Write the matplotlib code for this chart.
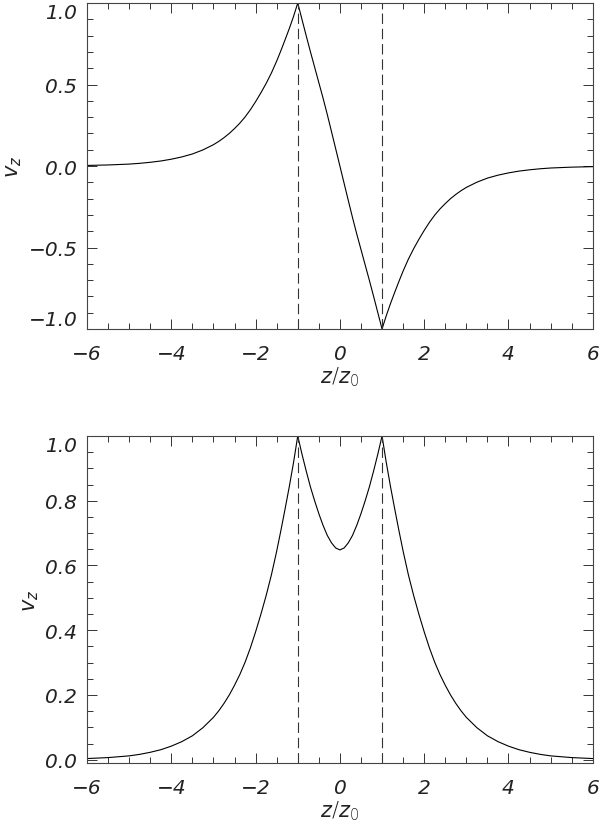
import matplotlib
matplotlib.use("Agg")
import matplotlib.pyplot as plt
from matplotlib.ticker import MultipleLocator, FixedLocator, FuncFormatter
from matplotlib.font_manager import FontProperties

# ---- data ----
z = [-6.0, -5.5, -5.0, -4.75, -4.5, -4.25, -4.0, -3.75, -3.5, -3.25, -3.0,
     -2.875, -2.75, -2.625, -2.5, -2.375, -2.25, -2.125,
     -2.0, -1.875, -1.75, -1.625, -1.5, -1.4, -1.3, -1.2, -1.1, -1.0,
     -0.9, -0.8, -0.7, -0.6, -0.5, -0.4, -0.3, -0.2, -0.1, 0.0,
     0.1, 0.2, 0.3, 0.4, 0.5, 0.6, 0.7, 0.8, 0.9,
     1.0, 1.1, 1.2, 1.3, 1.4, 1.5, 1.625, 1.75, 1.875, 2.0,
     2.125, 2.25, 2.375, 2.5, 2.625, 2.75, 2.875,
     3.0, 3.25, 3.5, 3.75, 4.0, 4.25, 4.5, 4.75, 5.0, 5.5, 6.0]

v_top = [0.0037, 0.0067, 0.012, 0.0167, 0.023, 0.031, 0.042, 0.056, 0.074, 0.099, 0.131,
         0.151, 0.174, 0.200, 0.230, 0.263, 0.301, 0.345,
         0.395, 0.449, 0.507, 0.571, 0.644, 0.708, 0.775, 0.844, 0.918, 1.000,
         0.900, 0.800, 0.702, 0.607, 0.512, 0.417, 0.317, 0.212, 0.106, 0.0,
         -0.106, -0.212, -0.317, -0.417, -0.512, -0.607, -0.702, -0.800, -0.900,
         -1.000, -0.918, -0.844, -0.775, -0.708, -0.644, -0.571, -0.507, -0.449, -0.395,
         -0.345, -0.301, -0.263, -0.230, -0.200, -0.174, -0.151,
         -0.131, -0.099, -0.074, -0.056, -0.042, -0.031, -0.023, -0.0167, -0.012, -0.0067, -0.0037]

v_bot = [0.0037, 0.0067, 0.012, 0.0167, 0.023, 0.031, 0.042, 0.056, 0.074, 0.099, 0.131,
         0.151, 0.174, 0.200, 0.230, 0.263, 0.301, 0.345,
         0.395, 0.449, 0.507, 0.571, 0.644, 0.708, 0.775, 0.844, 0.918, 1.000,
         0.944, 0.892, 0.843, 0.800, 0.760, 0.724, 0.693, 0.670, 0.654, 0.648,
         0.654, 0.670, 0.693, 0.724, 0.760, 0.800, 0.843, 0.892, 0.944,
         1.000, 0.918, 0.844, 0.775, 0.708, 0.644, 0.571, 0.507, 0.449, 0.395,
         0.345, 0.301, 0.263, 0.230, 0.200, 0.174, 0.151,
         0.131, 0.099, 0.074, 0.056, 0.042, 0.031, 0.023, 0.0167, 0.012, 0.0067, 0.0037]

cusps = [-1.0, 1.0]
x_ticks = [-6, -4, -2, 0, 2, 4, 6]
top_yticks = [-1.0, -0.5, 0.0, 0.5, 1.0]
bot_yticks = [0.0, 0.2, 0.4, 0.6, 0.8, 1.0]

# ---- style ----
plt.rcParams['font.family'] = ['DejaVu Sans']
plt.rcParams['mathtext.fontset'] = 'custom'
plt.rcParams['mathtext.it'] = 'DejaVu Sans:italic:light'
plt.rcParams['mathtext.rm'] = 'DejaVu Sans:light'
plt.rcParams['lines.scale_dashes'] = False

fig = plt.figure(figsize=(6.0, 8.28), dpi=100)
ax1 = fig.add_axes([0.145, 0.6014, 0.843, 0.3937])
ax2 = fig.add_axes([0.145, 0.0773, 0.843, 0.3950])

def fmt_minus(v, dec):
    return f"{v:.{dec}f}".replace('-', '\u2212')

tick_fp = FontProperties(family='DejaVu Sans', style='oblique', weight='light', size=14.5)

for ax, v, yticks, ylim, ymin in [
        (ax1, v_top, top_yticks, (-1.0, 1.0), 0.1),
        (ax2, v_bot, bot_yticks, (-0.01, 1.0), 0.05)]:
    ax.plot(z, v, color='black', lw=0.8)
    for c in cusps:
        ax.axvline(c, color='#333333', lw=0.8, dashes=(7.5, 3.5))
    ax.set_xlim(-6, 6)
    ax.set_ylim(*ylim)
    ax.xaxis.set_major_locator(FixedLocator(x_ticks))
    ax.xaxis.set_minor_locator(MultipleLocator(0.5))
    ax.yaxis.set_major_locator(FixedLocator(yticks))
    ax.yaxis.set_minor_locator(MultipleLocator(ymin))
    ax.xaxis.set_major_formatter(FuncFormatter(lambda val, pos: fmt_minus(val, 0)))
    ax.yaxis.set_major_formatter(FuncFormatter(lambda val, pos: fmt_minus(val, 1)))
    ax.tick_params(which='both', direction='in', top=True, right=True, color='#333333', width=0.7)
    ax.tick_params(which='major', length=7)
    ax.tick_params(which='minor', length=4)
    ax.tick_params(axis='x', which='major', pad=11)
    ax.tick_params(axis='y', which='major', pad=7)
    for lab in ax.get_xticklabels() + ax.get_yticklabels():
        lab.set_fontproperties(tick_fp)
        lab.set_color('#222222')
    yt = ax.yaxis.get_major_ticks()
    yt[-1].label1.set_verticalalignment('top')
    if ax is ax1:
        yt[0].label1.set_verticalalignment('bottom')
    for sp in ax.spines.values():
        sp.set_linewidth(0.8)
        sp.set_color('#444444')
    ax.set_xlabel(r'$z/z_0$', fontsize=15, color='#222222', labelpad=1)
    ax.set_ylabel(r'$v_z$', fontsize=15, color='#222222', labelpad=3)

fig.savefig('out.png', dpi=100)
